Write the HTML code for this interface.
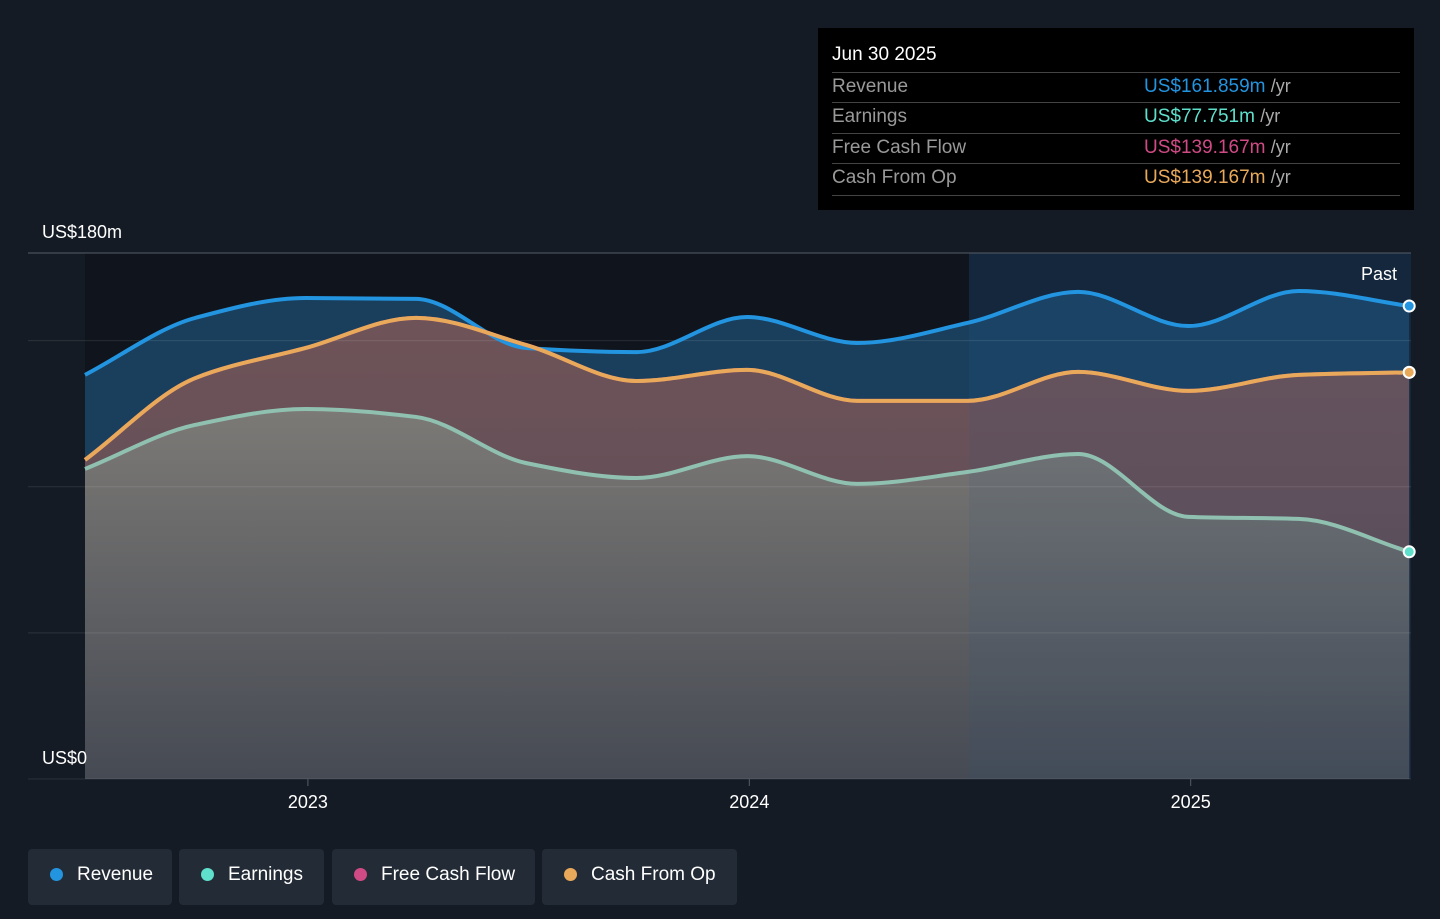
<!DOCTYPE html>
<html><head><meta charset="utf-8"><style>
body{margin:0;background:#151b24;width:1440px;height:919px;overflow:hidden;font-family:"Liberation Sans",sans-serif;}
.tt{position:absolute;left:818px;top:28px;width:596px;height:182px;background:#000;color:#fff;}
.tt .h{position:absolute;left:14px;top:16px;font-size:19px;}
.row{position:absolute;left:14px;width:568px;height:30px;border-top:1px solid #444;font-size:19px;color:#999;}
.row span{position:absolute;top:3px;}
.row .v{left:312px;}
.row .u{color:#aaa;font-size:18px;}
.legend{position:absolute;top:849px;height:56px;background:#232b36;border-radius:4px;color:#fff;font-size:19px;}
.legend i{position:absolute;left:22px;top:19px;width:13px;height:13px;border-radius:50%;}
.legend span{position:absolute;left:49px;top:15px;}
</style></head><body>
<svg width="1440" height="919" style="position:absolute;left:0;top:0" id="chart">
<defs>
<linearGradient id="gE" x1="0" y1="0" x2="0" y2="1"><stop offset="0" stop-color="#7d7c78"/><stop offset="1" stop-color="#454a53"/></linearGradient>
<linearGradient id="gC" x1="0" y1="0" x2="0" y2="1"><stop offset="0" stop-color="#735558"/><stop offset="1" stop-color="#5a4a55"/></linearGradient>
</defs>
<rect x="85" y="253" width="884" height="526" fill="#10151d"/>
<rect x="969" y="253" width="442" height="526" fill="#122234"/>
<g id="fills"></g>
<g id="grid"></g>
<g id="lines"></g>
<text x="42" y="238" fill="#fff" font-size="18">US$180m</text>
<text x="42" y="764" fill="#fff" font-size="18">US$0</text>
<text x="1397" y="280" fill="#fff" font-size="18" text-anchor="end">Past</text>
<g id="xt"></g>
</svg>
<div class="tt">
<div class="h">Jun 30 2025</div>
<div class="row" style="top:44px"><span>Revenue</span><span class="v"><b style="font-weight:normal;color:#2394df">US$161.859m</b> <span class="u" style="position:static">/yr</span></span></div>
<div class="row" style="top:74px"><span>Earnings</span><span class="v"><b style="font-weight:normal;color:#5ee0cc">US$77.751m</b> <span class="u" style="position:static">/yr</span></span></div>
<div class="row" style="top:105px"><span>Free Cash Flow</span><span class="v"><b style="font-weight:normal;color:#d04a85">US$139.167m</b> <span class="u" style="position:static">/yr</span></span></div>
<div class="row" style="top:135px;height:31px;border-bottom:1px solid #444"><span>Cash From Op</span><span class="v"><b style="font-weight:normal;color:#e9a95a">US$139.167m</b> <span class="u" style="position:static">/yr</span></span></div>
</div>
<div class="legend" style="left:28px;width:144px"><i style="background:#2394df"></i><span>Revenue</span></div>
<div class="legend" style="left:179px;width:145px"><i style="background:#5ee0cc"></i><span>Earnings</span></div>
<div class="legend" style="left:332px;width:203px"><i style="background:#d04a85"></i><span>Free Cash Flow</span></div>
<div class="legend" style="left:542px;width:195px"><i style="background:#e9a95a"></i><span>Cash From Op</span></div>
<script>
const dates=[2022.495,2022.745,2022.995,2023.245,2023.495,2023.745,2023.995,2024.245,2024.495,2024.745,2024.995,2025.245,2025.495];
const revenue=[138.3,157.8,164.6,164.3,147.5,146.1,158.1,149.2,156.1,166.7,155,167,161.859];
const earnings=[106.1,121.2,126.6,123.9,108.1,103,110.5,101,105.1,111.2,89.7,89,77.751];
const fcf=[109.2,137.2,147.5,157.8,148.5,136.2,140,129.4,129.4,139.3,132.8,138.3,139.167];
const cfo=[109.2,137.2,147.5,157.8,148.5,136.2,140,129.4,129.4,139.3,132.8,138.3,139.167];
const yTicks=[0,50,100,150,180];
const xTicks=[2023,2024,2025];
const X=d=>85+(d-2022.495)*441.4, Y=v=>779-v*526/180;
const NS='http://www.w3.org/2000/svg';
function mk(t,a,p){const e=document.createElementNS(NS,t);for(const k in a)e.setAttribute(k,a[k]);document.getElementById(p).appendChild(e);return e;}
function path(vals){const p=vals.map((v,i)=>[X(dates[i]),Y(v)]);const n=p.length;
const dx=[],s=[];for(let i=0;i<n-1;i++){dx.push(p[i+1][0]-p[i][0]);s.push((p[i+1][1]-p[i][1])/dx[i]);}
const m=[s[0]];for(let i=1;i<n-1;i++){m.push(s[i-1]*s[i]<=0?0:(3*(dx[i-1]+dx[i]))/((2*dx[i]+dx[i-1])/s[i-1]+(dx[i]+2*dx[i-1])/s[i]));}m.push(s[n-2]);
let d='M'+p[0];for(let i=0;i<n-1;i++){const h=dx[i]/3;d+=` C${p[i][0]+h},${p[i][1]+m[i]*h} ${p[i+1][0]-h},${p[i+1][1]-m[i+1]*h} ${p[i+1]}`;}return d;}
const x0=X(dates[0]),x1=X(dates[dates.length-1]);
function area(vals,fill,op,name){const e=mk('path',{d:path(vals)+` L${x1},779 L${x0},779 Z`,fill:fill,opacity:op},'fills');

}
area(revenue,'#1b4a6e',0.8,'revenue-area');
area(cfo,'url(#gC)',0.95,'cash-from-op-area');
area(earnings,'url(#gE)',0.95,'earnings-area');
const ov=mk('rect',{x:969,y:253,width:442,height:526,fill:'#2a5a88',opacity:0.1},'fills');


yTicks.forEach(v=>{const g=mk('line',{x1:28,x2:1411,y1:Y(v),y2:Y(v),stroke:v==180?'#555d68':'#ffffff',"stroke-opacity":v==180?1:0.1,"stroke-width":1},'grid');

});
function line(vals,col,name){const e=mk('path',{d:path(vals),fill:'none',stroke:col,"stroke-width":4},'lines');


const c=mk('circle',{cx:x1,cy:Y(vals[vals.length-1]),r:5.5,fill:col,stroke:'#fff',"stroke-width":2},'lines');

}
line(revenue,'#2394df','revenue-line');
line(fcf,'#d04a85','free-cash-flow-line');
line(cfo,'#e9a95a','cash-from-op-line');
line(earnings,'#8fc0b0','earnings-line');
document.querySelectorAll('#lines circle')[3].setAttribute('fill','#5ee0cc');
xTicks.forEach(t=>{const l=mk('line',{x1:X(t),x2:X(t),y1:779,y2:786,stroke:'#555d68'},'xt');


const tx=mk('text',{x:X(t),y:808,fill:'#fff',"font-size":18,"text-anchor":"middle"},'xt');tx.textContent=t;

});
</script>
</body></html>
